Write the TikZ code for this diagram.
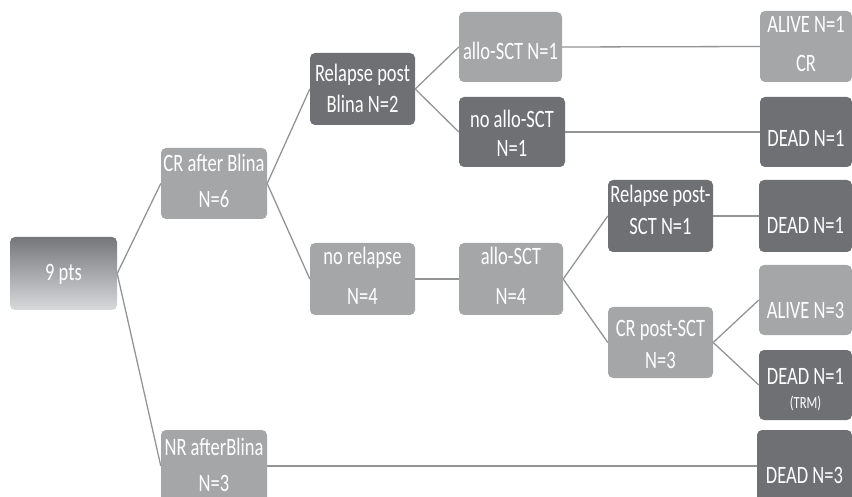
\documentclass[tikz,border=0pt]{standalone}
\usepackage{fontspec}
\setmainfont{Carlito}[FakeStretch=0.74]
\definecolor{boxlight}{RGB}{165,166,168}
\definecolor{boxdark}{RGB}{111,112,116}
\definecolor{conncol}{RGB}{148,148,148}
\definecolor{gradtop}{RGB}{118,119,123}
\definecolor{gradbot}{RGB}{216,217,219}
\begin{document}
\begin{tikzpicture}[x=1pt,y=-1pt,
  lightbox/.style={fill=boxlight, rounded corners=5pt, inner sep=0pt},
  darkbox/.style={fill=boxdark, rounded corners=5pt, inner sep=0pt},
  txt/.style={text=white, font=\fontsize{25}{30}\selectfont, inner sep=0pt, anchor=base},
  smalltxt/.style={text=white, font=\fontsize{17}{20}\selectfont, inner sep=0pt, anchor=base},
  conn/.style={draw=conncol, line width=1.3pt}]
\useasboundingbox (0,0) rectangle (852,497);

% boxes
\node[rounded corners=5pt, inner sep=0pt, top color=gradtop, bottom color=gradbot,
      minimum width=107pt, minimum height=73pt] (pts) at (63.5,273.5) {};
\node[lightbox, minimum width=106pt, minimum height=71pt] (crb) at (214,183.5) {};
\node[lightbox, minimum width=106pt, minimum height=72pt] (nr) at (214,466) {};
\node[darkbox, minimum width=105pt, minimum height=72pt] (rpb) at (362.5,89) {};
\node[lightbox, minimum width=105pt, minimum height=72pt] (norel) at (362.5,279) {};
\node[lightbox, minimum width=103pt, minimum height=70pt] (as1) at (510.5,47) {};
\node[darkbox, minimum width=106pt, minimum height=70pt] (noas) at (512,132) {};
\node[lightbox, minimum width=104pt, minimum height=72pt] (as4) at (511,279) {};
\node[darkbox, minimum width=105pt, minimum height=72pt] (rps) at (660.5,216) {};
\node[lightbox, minimum width=105pt, minimum height=71pt] (crps) at (660.5,342.5) {};
\node[lightbox, minimum width=92pt, minimum height=71pt] (alive1) at (806,46.5) {};
\node[darkbox, minimum width=92pt, minimum height=70pt] (dead1) at (806,132) {};
\node[darkbox, minimum width=93pt, minimum height=72pt] (dead2) at (805.5,216) {};
\node[lightbox, minimum width=93pt, minimum height=70pt] (alive3) at (805.5,300) {};
\node[darkbox, minimum width=93pt, minimum height=70pt] (deadtrm) at (805.5,385) {};
\node[darkbox, minimum width=95pt, minimum height=72pt] (dead3) at (804.5,466) {};

% texts
\node[txt] (pts-t) at (63.5,280) {9 pts};
\node[txt] (crb-t1) at (214,172) {CR after Blina};
\node[txt] (crb-t2) at (214,208) {N=6};
\node[txt] (nr-t1) at (214,455) {NR afterBlina};
\node[txt] (nr-t2) at (214,491) {N=3};
\node[txt] (rpb-t1) at (362.5,82) {Relapse post};
\node[txt] (rpb-t2) at (362.5,113) {Blina N=2};
\node[txt] (norel-t1) at (362.5,265) {no relapse};
\node[txt] (norel-t2) at (362.5,305) {N=4};
\node[txt] (as1-t) at (510.5,60) {allo-SCT N=1};
\node[txt] (noas-t1) at (512,128) {no allo-SCT};
\node[txt] (noas-t2) at (512,157) {N=1};
\node[txt] (as4-t1) at (511,265) {allo-SCT};
\node[txt] (as4-t2) at (511,305) {N=4};
\node[txt] (rps-t1) at (660.5,203) {Relapse post-};
\node[txt] (rps-t2) at (660.5,235) {SCT N=1};
\node[txt] (crps-t1) at (660.5,337) {CR post-SCT};
\node[txt] (crps-t2) at (660.5,368) {N=3};
\node[txt] (alive1-t1) at (806,33) {ALIVE N=1};
\node[txt] (alive1-t2) at (806,72) {CR};
\node[txt] (dead1-t) at (806,147) {DEAD N=1};
\node[txt] (dead2-t) at (805.5,234) {DEAD N=1};
\node[txt] (alive3-t) at (805.5,319) {ALIVE N=3};
\node[txt] (deadtrm-t1) at (805.5,384) {DEAD N=1};
\node[smalltxt] (deadtrm-t2) at (805.5,408) {(TRM)};
\node[txt] (dead3-t) at (804.5,483) {DEAD N=3};

% connectors
\draw[conn] (pts.east) -- (crb.west);
\draw[conn] (pts.east) -- (nr.west);
\draw[conn] (crb.east) -- (rpb.west);
\draw[conn] (crb.east) -- (norel.west);
\draw[conn] (rpb.east) -- (as1.west);
\draw[conn] (rpb.east) -- (noas.west);
\draw[conn] (as1.east) -- (alive1.west);
\draw[conn] (noas.east) -- (dead1.west);
\draw[conn] (norel.east) -- (as4.west);
\draw[conn] (as4.east) -- (rps.west);
\draw[conn] (as4.east) -- (crps.west);
\draw[conn] (rps.east) -- (dead2.west);
\draw[conn] (crps.east) -- (alive3.west);
\draw[conn] (crps.east) -- (deadtrm.west);
\draw[conn] (nr.east) -- (dead3.west);
\end{tikzpicture}
\end{document}
